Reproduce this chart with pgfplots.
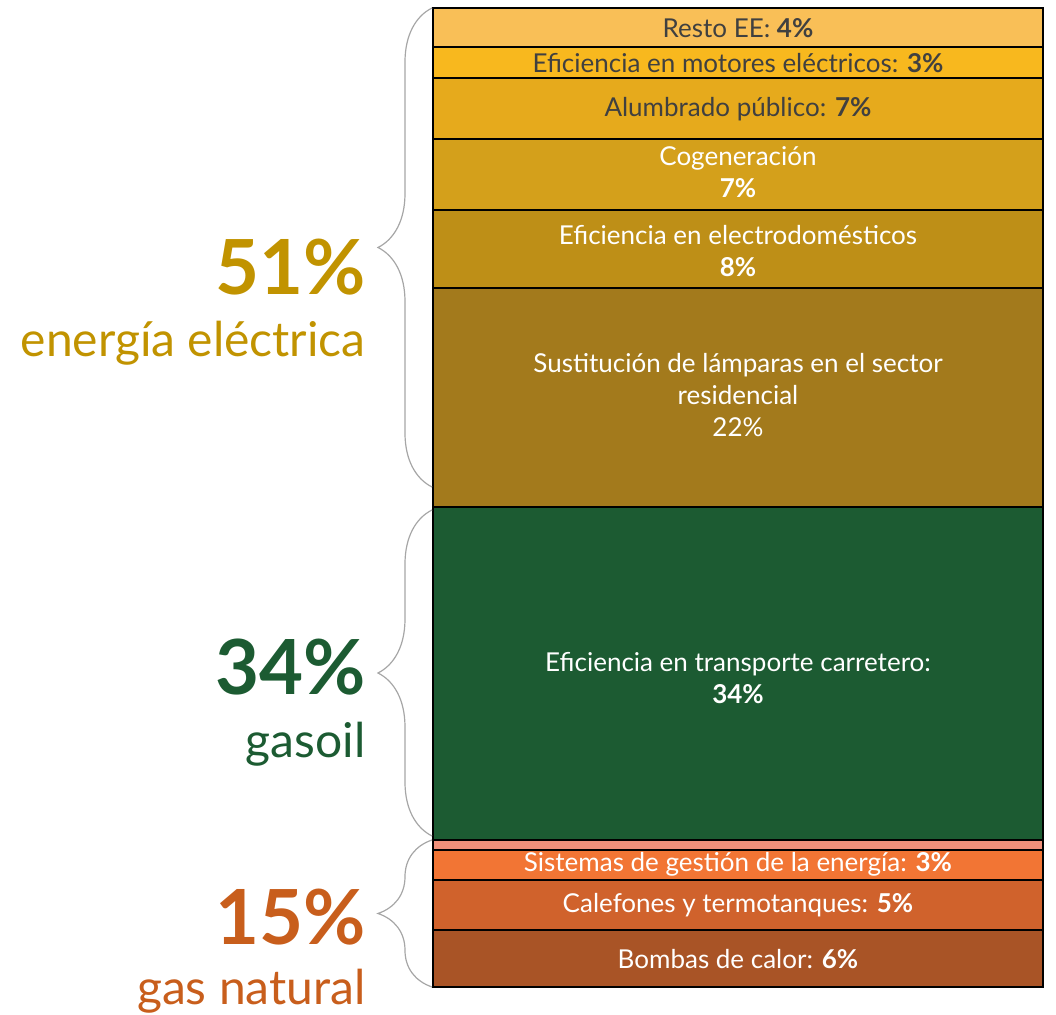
\documentclass[border=0pt]{standalone}
\usepackage{pgfplots}
\pgfplotsset{compat=1.18}
\usetikzlibrary{decorations.pathreplacing}
\usepackage{fontspec}
\setmainfont{Lato}
\definecolor{cResto}{HTML}{F9BF57}
\definecolor{cMot}{HTML}{F8B81E}
\definecolor{cAlu}{HTML}{E6AA1C}
\definecolor{cCog}{HTML}{D4A01B}
\definecolor{cEle}{HTML}{BE8F17}
\definecolor{cSus}{HTML}{A37A1C}
\definecolor{cTra}{HTML}{1C5B32}
\definecolor{cSal}{HTML}{F0907A}
\definecolor{cSis}{HTML}{F27534}
\definecolor{cCal}{HTML}{D0622C}
\definecolor{cBom}{HTML}{A95426}
\definecolor{tEE}{HTML}{C19300}
\definecolor{tGas}{HTML}{1C5B32}
\definecolor{tGN}{HTML}{C85E1C}
\definecolor{tDark}{HTML}{404040}
\tikzset{lbl/.style={font=\fontsize{13}{16}\selectfont, align=center, inner sep=0pt},
  br/.style={draw=gray!70, line width=0.6pt, decorate, decoration={brace, amplitude=27pt}}}
\begin{document}
\begin{tikzpicture}
\begin{axis}[
  at={(0,0)}, anchor=origin,
  scale only axis, width=305pt, height=489.5pt,
  xmin=0, xmax=1, ymin=0, ymax=100,
  axis lines=none, ticks=none, clip=false,
  ybar stacked, bar width=305pt,
  every axis plot/.append style={draw=black, line width=1pt},
]
\addplot[fill=cBom] coordinates {(0.5,5.8)};
\addplot[fill=cCal] coordinates {(0.5,5.1)};
\addplot[fill=cSis] coordinates {(0.5,3.1)};
\addplot[fill=cSal] coordinates {(0.5,1.0)};
\addplot[fill=cTra] coordinates {(0.5,34.0)};
\addplot[fill=cSus] coordinates {(0.5,22.4)};
\addplot[fill=cEle] coordinates {(0.5,8.0)};
\addplot[fill=cCog] coordinates {(0.5,7.2)};
\addplot[fill=cAlu] coordinates {(0.5,6.2)};
\addplot[fill=cMot] coordinates {(0.5,3.2)};
\addplot[fill=cResto] coordinates {(0.5,4.0)};
\end{axis}
\begin{scope}[shift={(152.5pt,0pt)}]
\node[lbl, text=tDark] at (0,479.5pt) {Resto EE: \textbf{4\%}};
\node[lbl, text=tDark] at (0,462pt) {Eficiencia en motores eléctricos: \textbf{3\%}};
\node[lbl, text=tDark] at (0,439pt) {Alumbrado público: \textbf{7\%}};
\node[lbl, text=white] at (0,407.5pt) {Cogeneración\\\textbf{7\%}};
\node[lbl, text=white] at (0,368pt) {Eficiencia en electrodomésticos\\\textbf{8\%}};
\node[lbl, text=white] at (0,296pt) {Sustitución de lámparas en el sector\\residencial\\22\%};
\node[lbl, text=white] at (0,154.5pt) {Eficiencia en transporte carretero:\\\textbf{34\%}};
\node[lbl, text=white] at (0,61.5pt) {Sistemas de gestión de la energía: \textbf{3\%}};
\node[lbl, text=white] at (0,41pt) {Calefones y termotanques: \textbf{5\%}};
\node[lbl, text=white] at (0,14pt) {Bombas de calor: \textbf{6\%}};
\end{scope}
\draw[br] (-0.5pt,250pt) -- (-0.5pt,489.5pt);
\draw[br] (-0.5pt,75.5pt) -- (-0.5pt,238.5pt);
\draw[br] (-0.5pt,0pt) -- (-0.5pt,73.5pt);
\node[anchor=base east, inner sep=0pt, text=tEE, font=\fontsize{38}{40}\selectfont\bfseries] at (-33.5pt,346pt) {51\%};
\node[anchor=base east, inner sep=0pt, text=tEE, font=\fontsize{24}{26}\selectfont] at (-33.5pt,315pt) {energía eléctrica};
\node[anchor=base east, inner sep=0pt, text=tGas, font=\fontsize{38}{40}\selectfont\bfseries] at (-33.5pt,146pt) {34\%};
\node[anchor=base east, inner sep=0pt, text=tGas, font=\fontsize{24}{26}\selectfont] at (-33.5pt,114.5pt) {gasoil};
\node[anchor=base east, inner sep=0pt, text=tGN, font=\fontsize{38}{40}\selectfont\bfseries] at (-33.5pt,21pt) {15\%};
\node[anchor=base east, inner sep=0pt, text=tGN, font=\fontsize{24}{26}\selectfont] at (-33.5pt,-9pt) {gas natural};
\pgfresetboundingbox
\useasboundingbox (-216.5pt,-14pt) rectangle (311.5pt,493.5pt);
\end{tikzpicture}
\end{document}
